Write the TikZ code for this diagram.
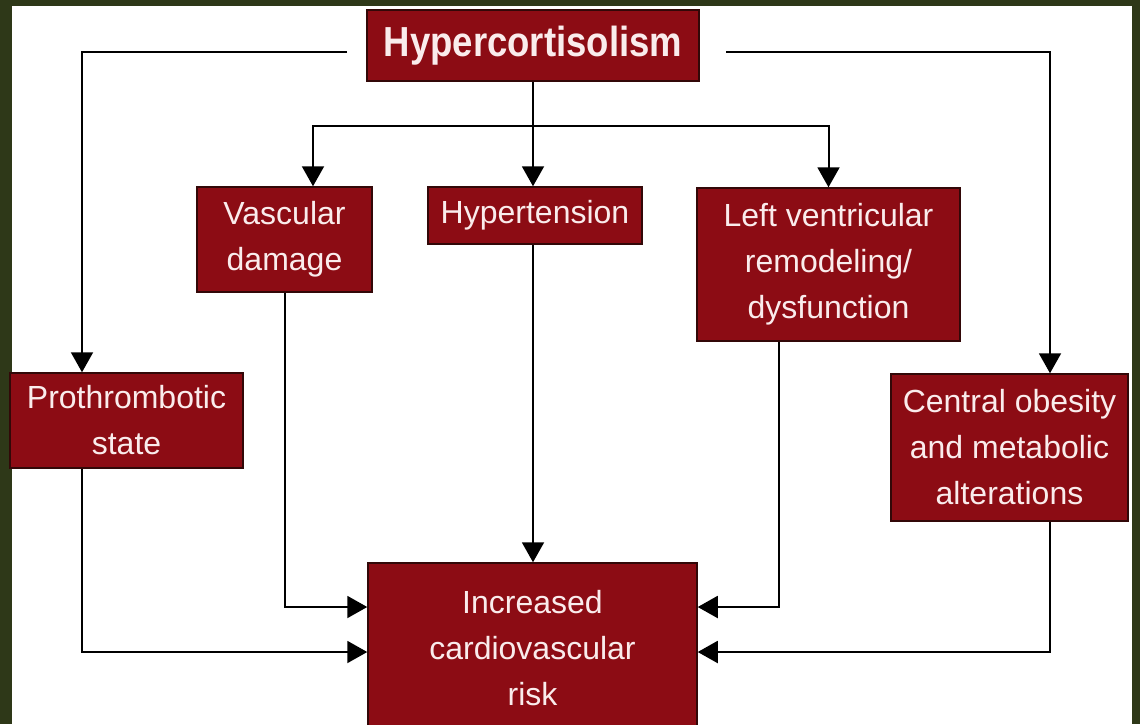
\documentclass[tikz,border=0pt]{standalone}
\usepackage{fontspec}
\setmainfont{Liberation Sans}
\newfontfamily\titlefont{Liberation Sans}[FakeStretch=0.87]
\usetikzlibrary{arrows.meta}
\definecolor{bgolive}{RGB}{46,56,24}
\definecolor{boxred}{RGB}{140,12,20}
\definecolor{boxline}{RGB}{50,8,8}
\definecolor{boxtext}{RGB}{250,236,236}

\begin{document}
\begin{tikzpicture}[
x=1pt,
y=-1pt
]

\tikzstyle{c} = [draw=boxline, fill=boxred, text=boxtext, line width=1.5pt, inner sep=0pt, align=center, font=\fontsize{32}{46}\selectfont]
\tikzstyle{a} = [line width=2pt, -{Triangle[length=20pt,width=22pt]}]
\tikzstyle{l} = [line width=2pt]

\useasboundingbox (0,0) rectangle (1140,724);
\fill[bgolive] (0,0) rectangle (1140,724);
\fill[white] (12,6) rectangle (1132,724);

\node[c, minimum width=332pt, minimum height=71pt, font=\titlefont\bfseries\fontsize{42}{46}\selectfont] (hyper) at (533,45.5) {Hypercortisolism};
\node[c, minimum width=175pt, minimum height=105pt] (vasc) at (284.5,239.5) {Vascular\\damage};
\node[c, minimum width=214pt, minimum height=57pt] (hypt) at (535,215.5) {Hypertension};
\node[c, minimum width=263pt, minimum height=153pt] (lvr) at (828.5,264.5) {Left ventricular\\remodeling/\\dysfunction};
\node[c, minimum width=233pt, minimum height=95pt] (proth) at (126.5,420.5) {Prothrombotic\\state};
\node[c, minimum width=237pt, minimum height=147pt] (cent) at (1009.5,447.5) {Central obesity\\and metabolic\\alterations};
\node[c, minimum width=329pt, minimum height=170pt] (risk) at (532.5,648) {Increased\\cardiovascular\\risk};

\coordinate (hl) at (347,52);
\coordinate (hr) at (726,52);
\coordinate (bus) at (533,126);
\coordinate (cl) at (82,0);
\coordinate (cv) at (313,0);
\coordinate (cr) at (779,0);
\coordinate (cc) at (1050,0);
\coordinate (r1) at (0,607);
\coordinate (r2) at (0,652);

\draw[l] (hyper.south) -- (bus);
\draw[a] (bus) -- (bus |- hypt.north);
\draw[a] (bus) -| (cv |- vasc.north);
\draw[a] (bus) -| (lvr.north);
\draw[a] (hl) -| (cl |- proth.north);
\draw[a] (hr) -| (cc |- cent.north);

\draw[a] (bus |- hypt.south) -- (bus |- risk.north);
\draw[a] (vasc.south) |- (risk.west |- r1);
\draw[a] (cl |- proth.south) |- (risk.west |- r2);
\draw[a] (cr |- lvr.south) |- (risk.east |- r1);
\draw[a] (cc |- cent.south) |- (risk.east |- r2);
\end{tikzpicture}
\end{document}
